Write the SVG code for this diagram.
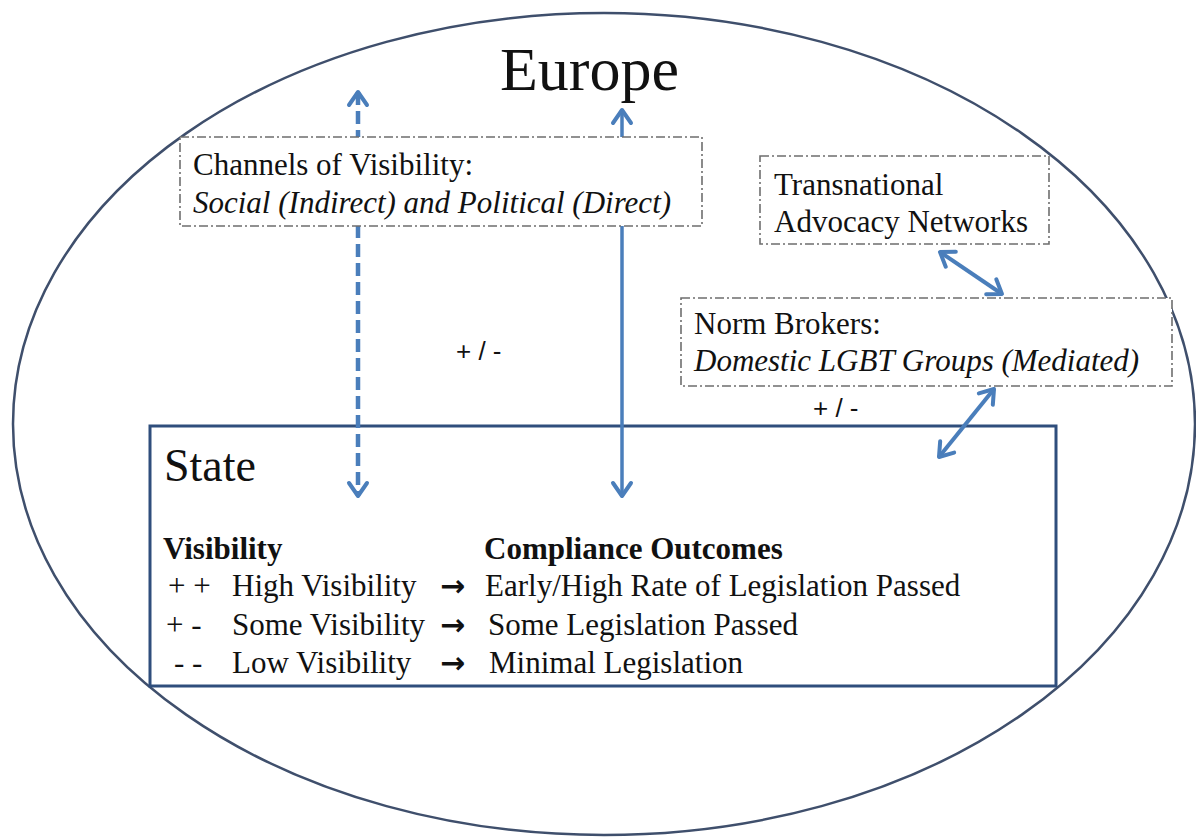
<svg xmlns="http://www.w3.org/2000/svg" width="1196" height="838" viewBox="0 0 1196 838">
<style>
.t{font-family:"Liberation Serif","Times New Roman",serif;font-size:31px;fill:#111}
.i{font-style:italic}
.b{font-weight:bold}
.ar{font-family:"DejaVu Sans",sans-serif;font-size:30px;font-weight:bold;fill:#111}
.pm{font-family:"Liberation Sans",Arial,sans-serif;font-size:26px;fill:#111}
.box{fill:#fff;stroke:#6e6e6e;stroke-width:1.6;stroke-dasharray:9 3 2 3}
.arr{stroke:#4a7ebb;fill:none}
</style>
<defs>
<marker id="ah" viewBox="0 0 24 24" refX="21" refY="12" markerWidth="24" markerHeight="24" markerUnits="userSpaceOnUse" orient="auto-start-reverse">
<path d="M8,3 L21,12 L8,21" fill="none" stroke="#4a7ebb" stroke-width="4" stroke-linecap="round" stroke-linejoin="round"/>
</marker>
</defs>
<rect width="1196" height="838" fill="#fff"/>
<g id="europe">
<ellipse cx="604" cy="424" rx="591" ry="411" fill="none" stroke="#3f4f6c" stroke-width="2.5"/>
<text class="t" x="500" y="90" style="font-size:62px">Europe</text>
</g>
<g id="state">
<rect x="150" y="426" width="906" height="260" fill="#fff" stroke="#2f4e7c" stroke-width="3"/>
<text class="t" x="164" y="481" style="font-size:46px">State</text>
<text class="t b" x="163" y="559">Visibility</text>
<text class="t b" x="484" y="559">Compliance Outcomes</text>
<text class="t" x="168" y="596">+ +</text>
<text class="t" x="232" y="596">High Visibility</text>
<text class="ar" x="440" y="596">→</text>
<text class="t" x="485" y="596">Early/High Rate of Legislation Passed</text>
<text class="t" x="166" y="635">+ -</text>
<text class="t" x="232" y="635">Some Visibility</text>
<text class="ar" x="440" y="635">→</text>
<text class="t" x="488" y="635">Some Legislation Passed</text>
<text class="t" x="174" y="673">- -</text>
<text class="t" x="232" y="673">Low Visibility</text>
<text class="ar" x="440" y="673">→</text>
<text class="t" x="489" y="673">Minimal Legislation</text>
</g>
<g id="connectors">
<line class="arr" x1="358" y1="92" x2="358" y2="496" stroke-width="4.5" stroke-dasharray="13 6" marker-start="url(#ah)" marker-end="url(#ah)"/>
<line class="arr" x1="622" y1="110" x2="622" y2="496" stroke-width="3.5" marker-start="url(#ah)" marker-end="url(#ah)"/>
<line class="arr" x1="940" y1="252" x2="1002" y2="294" stroke-width="4" marker-start="url(#ah)" marker-end="url(#ah)"/>
<line class="arr" x1="994" y1="389" x2="939" y2="457" stroke-width="4" marker-start="url(#ah)" marker-end="url(#ah)"/>
<text class="pm" x="456" y="360">+ / -</text>
<text class="pm" x="813" y="417">+ / -</text>
</g>
<g id="channels">
<rect class="box" x="180" y="137" width="522" height="89"/>
<text class="t" x="193" y="175">Channels of Visibility:</text>
<text class="t i" x="193" y="213">Social (Indirect) and Political (Direct)</text>
</g>
<g id="tan">
<rect class="box" x="760" y="156" width="289" height="88"/>
<text class="t" x="774" y="195">Transnational</text>
<text class="t" x="774" y="232">Advocacy Networks</text>
</g>
<g id="norm-brokers">
<rect class="box" x="681" y="298" width="491" height="88"/>
<text class="t" x="694" y="334">Norm Brokers:</text>
<text class="t i" x="694" y="371">Domestic LGBT Groups (Mediated)</text>
</g>
</svg>
